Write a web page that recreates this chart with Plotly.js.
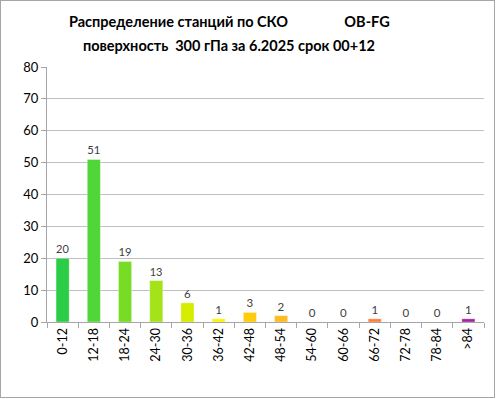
<!DOCTYPE html>
<html><head><meta charset="utf-8">
<script src="https://cdn.plot.ly/plotly-3.0.1.min.js"></script>
<style>
html,body{margin:0;padding:0;background:#fff;}
#wrap{position:relative;width:496px;height:399px;}
#chart{width:496px;height:399px;}
#frame{position:absolute;left:0;top:0;width:493px;height:396px;border:1px solid #a6a6a6;pointer-events:none;}
</style></head>
<body>
<div id="wrap"><div id="chart"></div><div id="frame"></div></div>
<script>
const categories = ["0-12","12-18","18-24","24-30","30-36","36-42","42-48","48-54","54-60","60-66","66-72","72-78","78-84",">84"];
const counts = [20,51,19,13,6,1,3,2,0,0,1,0,0,1];
const barColors = ["#2ccd46","#50d638","#77dd24","#a4e21a","#d6ec00","#fbf500","#ffcb0a","#ffbb22","#ff9f3a","#ff8a3a","#ff7d35","#e04a70","#c0309a","#a323a3"];
const yTicks = [0,10,20,30,40,50,60,70,80];
const titleLines = ['Распределение станций по СКО\u00a0\u00a0\u00a0\u00a0\u00a0\u00a0\u00a0\u00a0\u00a0\u00a0\u00a0\u00a0\u00a0\u00a0\u00a0\u00a0OB-FG', 'поверхность  300 гПа за 6.2025 срок 00+12'];

const FONT = 'Lato, "Open Sans", sans-serif';
const trace = {
  type:'bar', x:categories, y:counts,
  marker:{color:barColors, line:{color:'rgba(255,255,255,0.35)', width:1}},
  text:counts.map(String), textposition:'outside', cliponaxis:false,
  textfont:{family:FONT, size:11.5, color:'#404040'},
  hoverinfo:'none'
};
const layout = {
  width:496, height:399,
  margin:{l:47, r:12, t:67, b:77},
  paper_bgcolor:'#fff', plot_bgcolor:'#fff',
  bargap:0.58,
  showlegend:false,
  annotations: titleLines.map((t,i)=>({
    text:'<b>'+t+'</b>', xref:'paper', yref:'paper', x:0.417, xanchor:'center',
    y:1 + (67-22-23*i)/(399-67-77), yanchor:'middle', showarrow:false,
    font:{family:FONT, size:14.5, color:'#000'}
  })),
  xaxis:{
    type:'category', tickangle:-90, tickson:'boundaries', ticks:'outside', ticklen:5, tickcolor:'#a6a6a6',
    showline:true, linecolor:'#a6a6a6', linewidth:1, showgrid:false,
    tickfont:{family:FONT, size:12.5, color:'#000'}, fixedrange:true
  },
  yaxis:{
    range:[0,80], tickvals:yTicks, ticktext:yTicks.map(String), ticks:'outside', ticklen:5, tickcolor:'#a6a6a6',
    showline:true, linecolor:'#a6a6a6', linewidth:1,
    showgrid:true, gridcolor:'#c0c0c0', gridwidth:1, zeroline:false,
    tickfont:{family:FONT, size:13, color:'#000'}, fixedrange:true
  }
};
Plotly.newPlot('chart',[trace],layout,{staticPlot:true, displayModeBar:false});
</script>
</body></html>
